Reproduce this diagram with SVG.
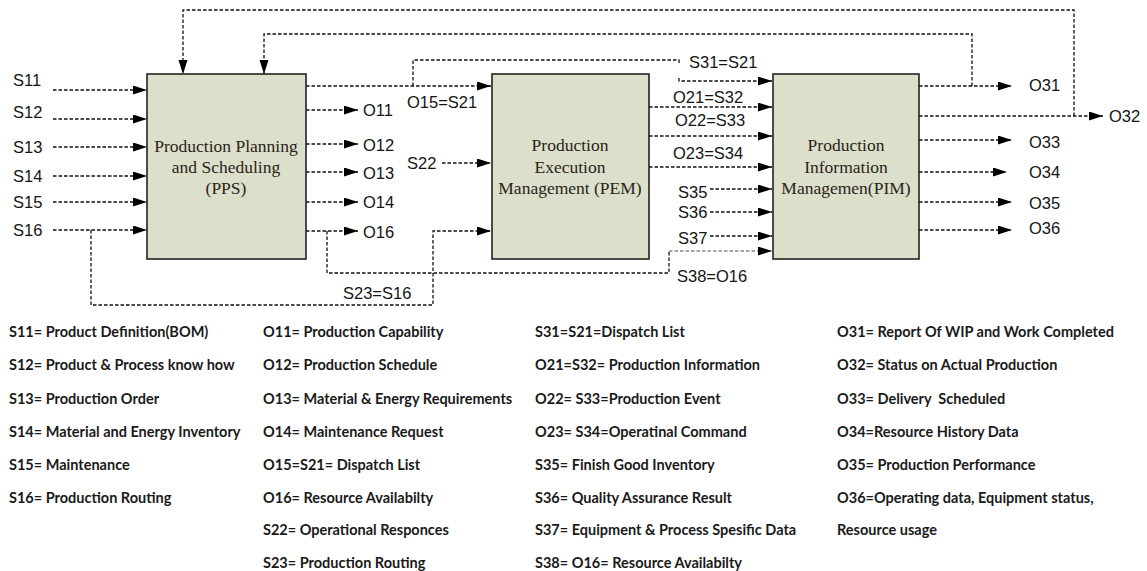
<svg xmlns="http://www.w3.org/2000/svg" width="1147" height="571" viewBox="0 0 1147 571">
<style>
.bg{fill:#ffffff}
.box{fill:#dcdfc9;stroke:#222;stroke-width:1.6}
.bt{font-family:"Liberation Serif",serif;font-size:17.5px;fill:#2b2320;text-anchor:middle}
.lbl{font-family:"Liberation Sans",Arial,sans-serif;font-size:16.5px;fill:#141414}
.leg{font-family:Lato,"Liberation Sans",sans-serif;font-size:14.5px;font-weight:bold;fill:#1a1a1a}
.c{fill:none;stroke:#111;stroke-width:1.3;stroke-dasharray:3.5,2}
.a{marker-end:url(#ah)}
.g{stroke:#888}
</style>
<defs>
<marker id="ah" markerWidth="15" markerHeight="10" refX="14" refY="4.5" orient="auto" markerUnits="userSpaceOnUse">
<path d="M0,0 L14,4.5 L0,9 z" fill="#000"/>
</marker>
</defs>
<rect class="bg" width="1147" height="571"/>

<g id="connectors">
<!-- PPS inputs -->
<path class="c a" d="M53,90 H147"/>
<path class="c a" d="M53,119 H147"/>
<path class="c a" d="M53,147 H147"/>
<path class="c a" d="M53,176 H147"/>
<path class="c a" d="M53,202 H147"/>
<path class="c a" d="M53,230 H147"/>
<!-- feedback loops -->
<path class="c a" d="M1074,116 V10 H183 V74"/>
<path class="c a" d="M972,86 V34 H264 V74"/>
<!-- PPS outputs -->
<path class="c a" d="M306,86 H491"/>
<path class="c" d="M413,86 V60 H679 V64"/>
<path class="c a" d="M679,78 V81 H772"/>
<path class="c a" d="M306,110 H358"/>
<path class="c a" d="M306,144 H358"/>
<path class="c a" d="M306,172 H358"/>
<path class="c a" d="M306,202 H358"/>
<path class="c a" d="M306,231 H358"/>
<path class="c" d="M327,231 V273 H669 V251"/>
<path class="c g a" d="M669,251 H772"/>
<path class="c a" d="M91,230 V305 H433 V231 H491"/>
<path class="c a" d="M442,163 H491"/>
<!-- PEM outputs -->
<path class="c a" d="M649,107 H772"/>
<path class="c a" d="M649,136 H772"/>
<path class="c a" d="M649,167 H772"/>
<path class="c a" d="M710,189 H772"/>
<path class="c a" d="M710,212 H772"/>
<path class="c a" d="M710,236 H772"/>
<!-- PIM outputs -->
<path class="c a" d="M919,86 H1012"/>
<path class="c a" d="M919,116 H1103"/>
<path class="c a" d="M919,140 H1012"/>
<path class="c a" d="M919,172 H1007"/>
<path class="c a" d="M919,202 H1012"/>
<path class="c a" d="M919,230 H1012"/>
</g>

<g id="pps">
<rect class="box" x="147" y="74" width="159" height="185"/>
<text class="bt" x="226" y="152">Production Planning</text>
<text class="bt" x="226" y="173">and Scheduling</text>
<text class="bt" x="226" y="194">(PPS)</text>
</g>
<g id="pem">
<rect class="box" x="492" y="74" width="157" height="185"/>
<text class="bt" x="570" y="151">Production</text>
<text class="bt" x="570" y="173">Execution</text>
<text class="bt" x="570" y="194">Management (PEM)</text>
</g>
<g id="pim">
<rect class="box" x="773" y="74" width="146" height="185"/>
<text class="bt" x="846" y="151">Production</text>
<text class="bt" x="846" y="173">Information</text>
<text class="bt" x="846" y="194">Managemen(PIM)</text>
</g>

<g id="labels">
<text class="lbl" x="13" y="86">S11</text>
<text class="lbl" x="13" y="118">S12</text>
<text class="lbl" x="13" y="153">S13</text>
<text class="lbl" x="13" y="182">S14</text>
<text class="lbl" x="13" y="208">S15</text>
<text class="lbl" x="13" y="236">S16</text>
<text class="lbl" x="363" y="116">O11</text>
<text class="lbl" x="363" y="151">O12</text>
<text class="lbl" x="363" y="179">O13</text>
<text class="lbl" x="363" y="208">O14</text>
<text class="lbl" x="363" y="238">O16</text>
<text class="lbl" x="407" y="108">O15=S21</text>
<text class="lbl" x="407" y="169">S22</text>
<text class="lbl" x="343" y="299">S23=S16</text>
<text class="lbl" x="689" y="68">S31=S21</text>
<text class="lbl" x="673" y="103">O21=S32</text>
<text class="lbl" x="675" y="126">O22=S33</text>
<text class="lbl" x="673" y="159">O23=S34</text>
<text class="lbl" x="678" y="198">S35</text>
<text class="lbl" x="678" y="218">S36</text>
<text class="lbl" x="678" y="244">S37</text>
<text class="lbl" x="677" y="282">S38=O16</text>
<text class="lbl" x="1029" y="91">O31</text>
<text class="lbl" x="1109" y="122">O32</text>
<text class="lbl" x="1029" y="148">O33</text>
<text class="lbl" x="1029" y="178">O34</text>
<text class="lbl" x="1029" y="209">O35</text>
<text class="lbl" x="1029" y="234">O36</text>
</g>

<g id="legend">
<text class="leg" x="9" y="337">S11= Product Definition(BOM)</text>
<text class="leg" x="9" y="370">S12= Product &amp; Process know how</text>
<text class="leg" x="9" y="404">S13= Production Order</text>
<text class="leg" x="9" y="437">S14= Material and Energy Inventory</text>
<text class="leg" x="9" y="470">S15= Maintenance</text>
<text class="leg" x="9" y="503">S16= Production Routing</text>

<text class="leg" x="263" y="337">O11= Production Capability</text>
<text class="leg" x="263" y="370">O12= Production Schedule</text>
<text class="leg" x="263" y="404">O13= Material &amp; Energy Requirements</text>
<text class="leg" x="263" y="437">O14= Maintenance Request</text>
<text class="leg" x="263" y="470">O15=S21= Dispatch List</text>
<text class="leg" x="263" y="503">O16= Resource Availabilty</text>
<text class="leg" x="263" y="535">S22= Operational Responces</text>
<text class="leg" x="263" y="568">S23= Production Routing</text>

<text class="leg" x="535" y="337">S31=S21=Dispatch List</text>
<text class="leg" x="535" y="370">O21=S32= Production Information</text>
<text class="leg" x="535" y="404">O22= S33=Production Event</text>
<text class="leg" x="535" y="437">O23= S34=Operatinal Command</text>
<text class="leg" x="535" y="470">S35= Finish Good Inventory</text>
<text class="leg" x="535" y="503">S36= Quality Assurance Result</text>
<text class="leg" x="535" y="535">S37= Equipment &amp; Process Spesific Data</text>
<text class="leg" x="535" y="568">S38= O16= Resource Availabilty</text>

<text class="leg" x="837" y="337">O31= Report Of WIP and Work Completed</text>
<text class="leg" x="837" y="370">O32= Status on Actual Production</text>
<text class="leg" x="837" y="404" xml:space="preserve">O33= Delivery  Scheduled</text>
<text class="leg" x="837" y="437">O34=Resource History Data</text>
<text class="leg" x="837" y="470">O35= Production Performance</text>
<text class="leg" x="837" y="503">O36=Operating data, Equipment status,</text>
<text class="leg" x="837" y="535">Resource usage</text>
</g>
</svg>
